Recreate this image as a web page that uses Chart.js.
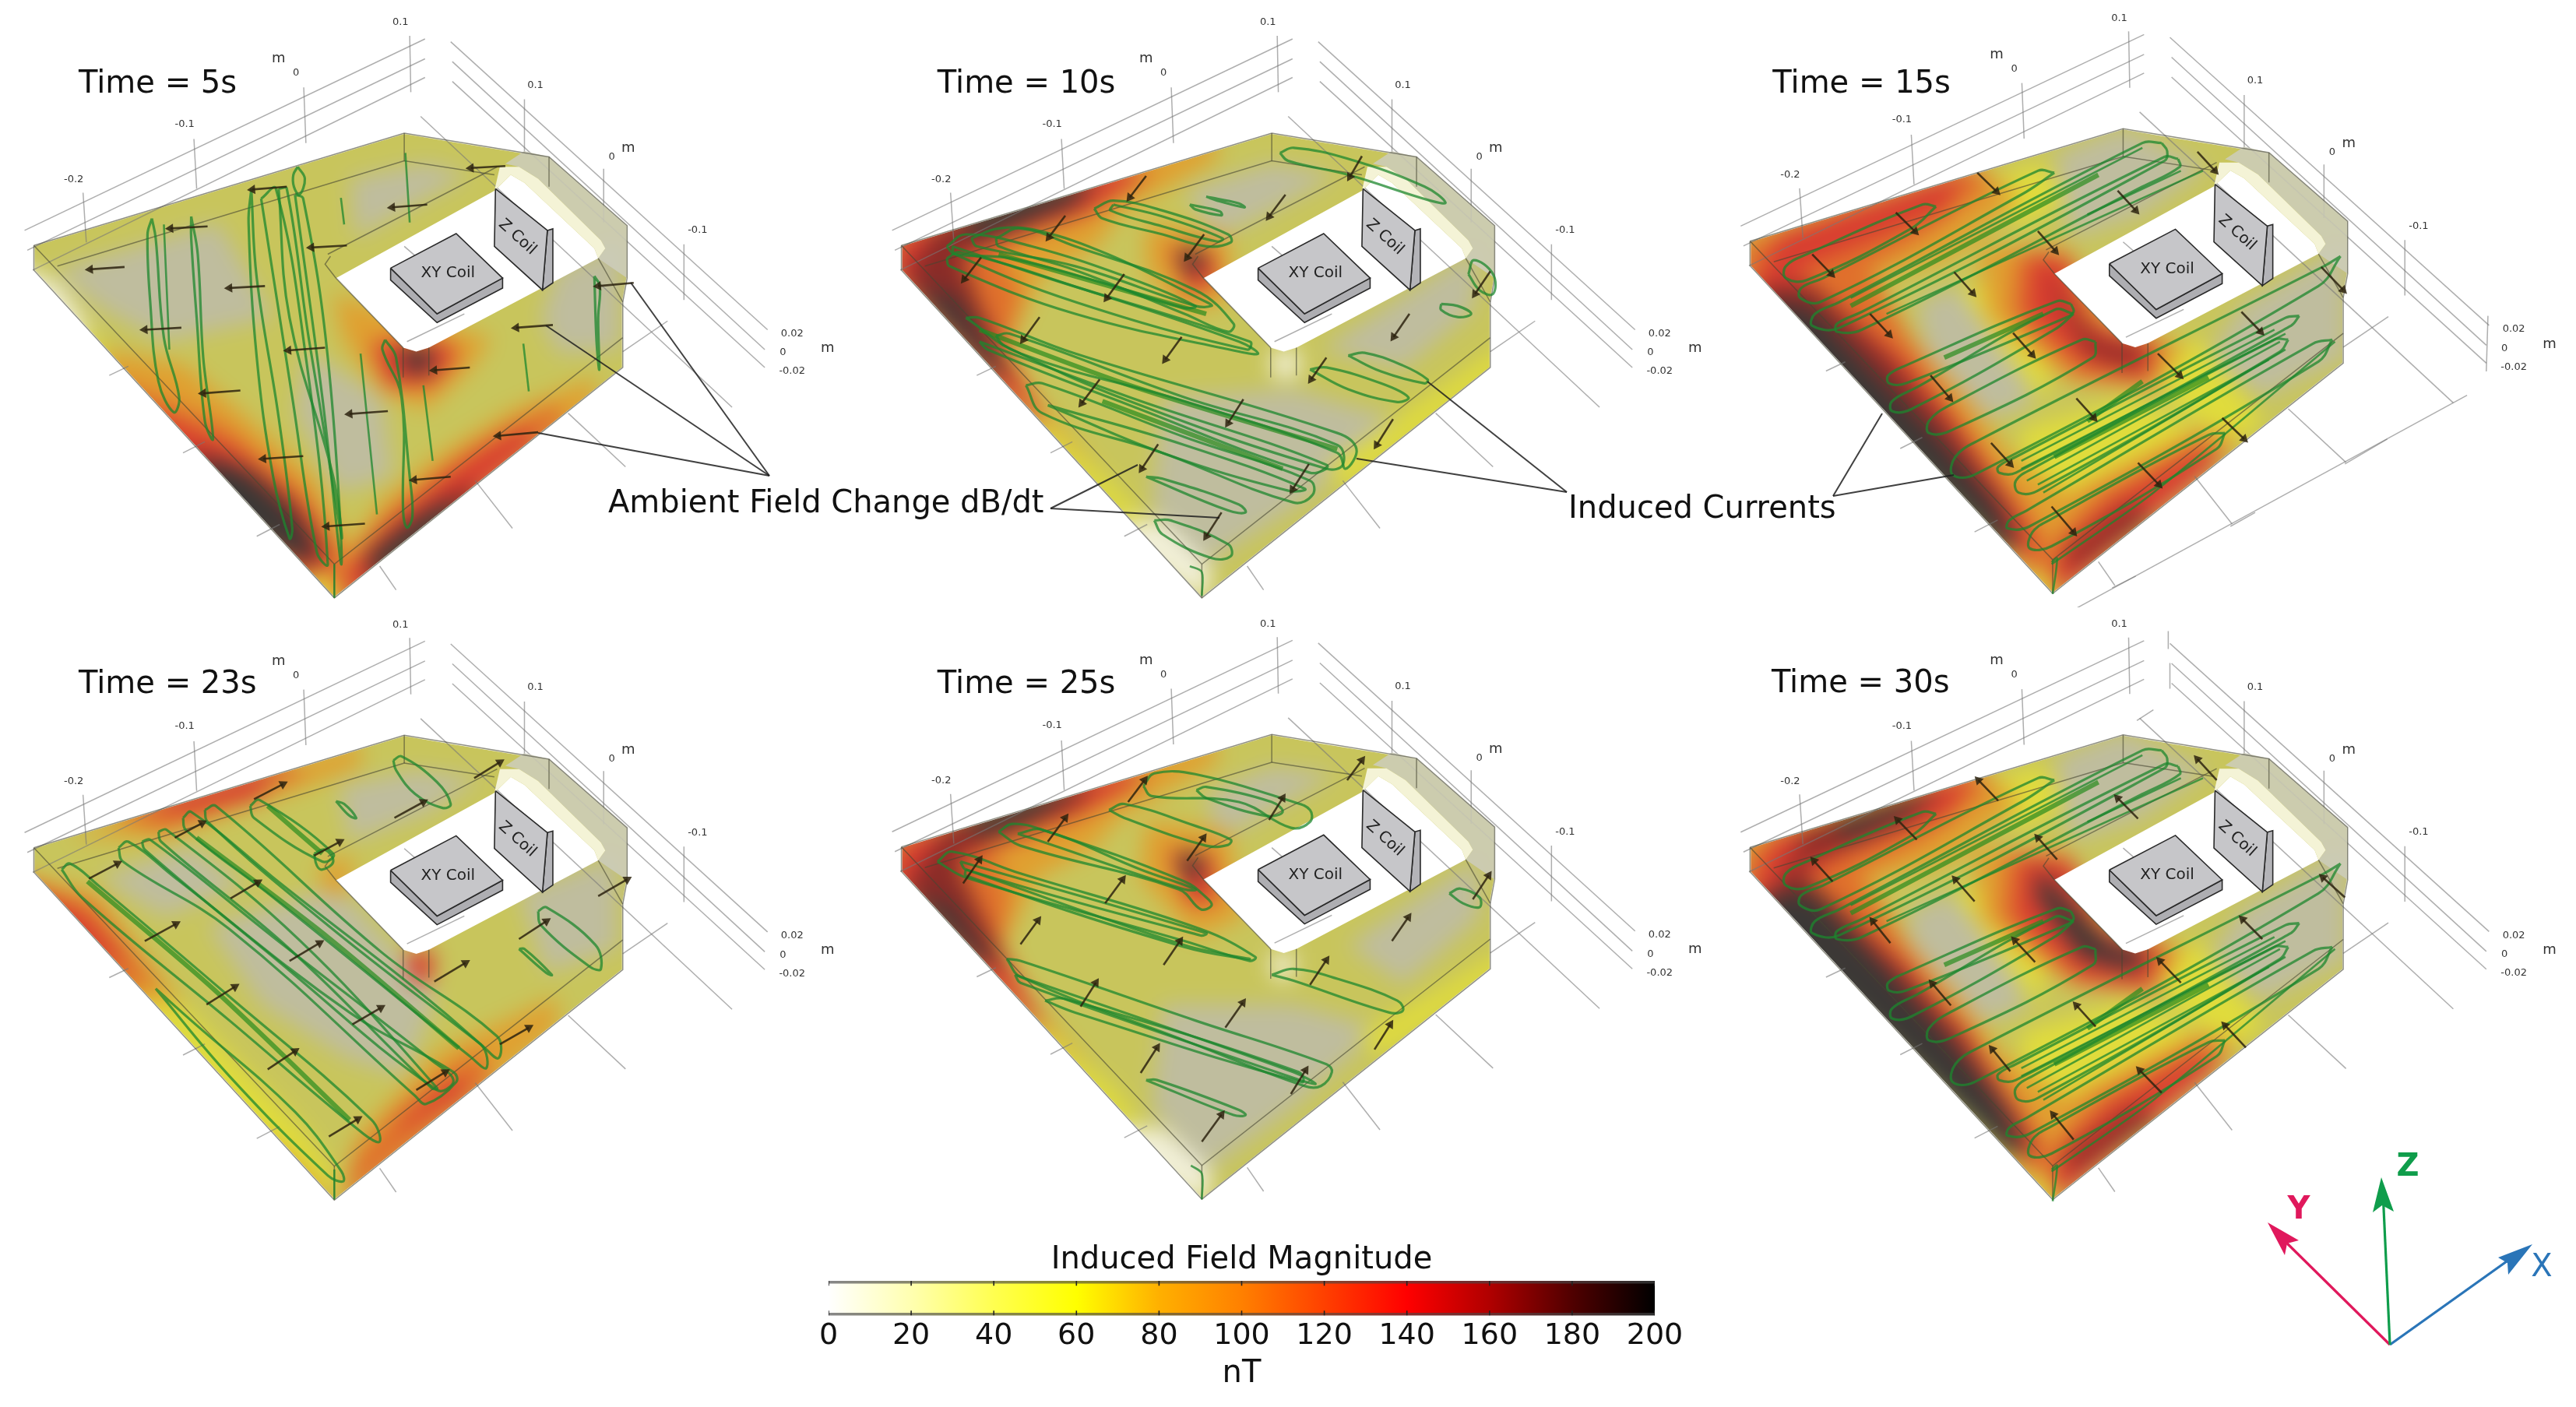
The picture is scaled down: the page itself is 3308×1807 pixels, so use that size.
<!DOCTYPE html>
<html>
<head>
<meta charset="utf-8">
<title>Induced field magnitude</title>
<script src="https://cdn.jsdelivr.net/npm/chart.js@4"></script>
<style>
  html, body { margin: 0; background: #fff; }
  #page { position: relative; width: 3308px; height: 1807px; overflow: hidden; background: #fff; }
  .panel { position: absolute; overflow: hidden; }
  .panel canvas { position: absolute; left: 0; top: 0; }
  .heat { filter: blur(14px); }
  .soft { filter: blur(0.7px); }
  .full { position: absolute; }
</style>
</head>
<body>
<div id="page"></div>
<script>
// ---- colour bar values
const colorbarTicks = [0, 20, 40, 60, 80, 100, 120, 140, 160, 180, 200]
const colorbarColors = ['#ffffff', '#ffffb0', '#ffff50', '#ffff00', '#ffb000', '#ff8000', '#ff4000', '#ff0000', '#b00000', '#500000', '#000000']

// surface colour per field level (nT), after the grey translucent shading of the model
const surfaceColor = { 5: '#f2f0d8', 20: '#bfbd9e', 50: '#c8c55c', 60: '#e0dc3c', 90: '#e0a030', 110: '#e0702c', 140: '#d83c30', 165: '#8a2c28', 190: '#3b3836' }

// ---- geometry shared by the six views (x, y pairs in panel units)
const outline = [62,618, 740,335, 825,355, 1005,395, 1148,568, 1148,700, 1140,760, 1140,925, 612,1505, 62,680]
const hole = [615,700, 905,480, 935,440, 960,460, 1088,625, 1095,650, 785,875, 762,885, 738,875]
const ringStrip = [1005,395, 1148,568, 1148,700, 1095,650, 1108,625, 1100,605, 985,450, 950,420, 925,412, 960,380]
const innerWall = [915,420, 950,420, 985,450, 1100,605, 1108,625, 1095,650, 1088,625, 960,460, 935,440, 905,480]
const xyTop = [715,675, 835,588, 920,700, 800,790]
const xySide = [715,675, 800,790, 920,700, 920,725, 800,812, 715,705]
const zFront = [907,475, 1002,580, 993,730, 905,620]
const zSide = [1002,580, 1012,576, 1012,712, 993,730]
const boxEdges = [
  [62,618, 740,335, 1005,395, 1148,568, 1148,700, 1140,760, 1140,925, 612,1505, 62,680, 62,618],
  [62,618, 612,1420, 1140,850],
  [612,1420, 612,1505],
  [105,670, 740,405, 905,440],
  [740,335, 740,405],
  [1005,395, 1005,470],
  [600,640, 910,420],
  [605,645, 595,665, 615,700, 738,875],
  [738,875, 738,950],
  [785,875, 785,945],
  [1095,650, 1140,760]
]
const gridLines = [
  [45,580, 778,98], [50,630, 778,148], [60,680, 778,195],
  [152,485, 158,610], [355,350, 360,475], [556,220, 560,360], [750,90, 752,232],
  [825,105, 1405,830], [828,155, 1400,880], [828,205, 1400,925], [770,293, 1340,1025],
  [960,250, 960,385], [1105,425, 1105,560], [1252,615, 1252,755],
  [200,945, 235,922], [335,1140, 375,1112], [470,1350, 512,1320],
  [695,1425, 725,1485], [870,1210, 938,1330], [1040,1040, 1145,1175],
  [1140,885, 1222,808], [745,860, 850,790], [740,620, 790,680]
]
const tickLabels = [
  ['0.1', 733, 57, 13], ['m', 510, 148, 18], ['0', 542, 184, 13], ['-0.1', 338, 313, 13], ['-0.2', 135, 452, 13],
  ['0.1', 980, 215, 13], ['0', 1120, 395, 13], ['m', 1150, 373, 18], ['-0.1', 1277, 580, 13],
  ['0.02', 1450, 840, 13], ['0', 1433, 888, 13], ['-0.02', 1450, 935, 13], ['m', 1515, 877, 18]
]
const extraGrid15 = [[1370,995, 655,1535], [1148,1168, 1225,1105], [940,1325, 985,1290], [725,1480, 768,1450], [1408,795, 1405,935]]
const extraGrid30 = [[827,60, 827,105], [830,140, 830,205], [800,258, 770,285]]

// ---- field patches per view: [level nT, x, y, x, y ...]
const heat5 = [
  [20, 100,680, 400,560, 500,800, 300,860, 190,780],
  [20, 560,880, 700,1000, 720,1200, 620,1240, 540,1040],
  [20, 1020,680, 1140,600, 1135,880, 1020,890, 990,800],
  [20, 640,450, 780,410, 860,440, 700,560, 650,600],
  [5, 30,660, 110,720, 170,840, 120,860, 30,740],
  [60, 130,830, 200,880, 270,1000, 230,1010, 130,880],
  [90, 190,880, 340,920, 460,1060, 580,1210, 640,1390, 620,1520, 540,1470, 190,970],
  [90, 1090,950, 940,1030, 800,1150, 700,1260, 640,1370, 620,1520, 1090,1020],
  [90, 610,740, 720,790, 900,850, 860,930, 780,1030, 700,990, 630,860],
  [110, 220,960, 410,1070, 550,1230, 620,1380, 620,1490, 540,1490, 220,1040],
  [110, 1010,1020, 860,1130, 720,1290, 640,1420, 630,1520, 1040,1060],
  [140, 270,1030, 430,1130, 560,1280, 610,1410, 580,1470, 270,1110],
  [140, 960,1070, 800,1210, 690,1340, 630,1440, 640,1520, 980,1110],
  [140, 680,860, 810,860, 840,890, 790,970, 710,970],
  [165, 350,1130, 470,1190, 540,1270, 590,1380, 580,1430, 350,1230],
  [190, 380,1150, 450,1190, 520,1270, 570,1370, 560,1420, 380,1280],
  [165, 860,1220, 750,1310, 670,1400, 680,1480, 880,1260],
  [190, 820,1260, 740,1330, 680,1400, 690,1460, 840,1300],
  [190, 735,880, 790,880, 785,935, 745,935],
  [60, 560,1440, 600,1440, 615,1520, 570,1520]
]
const heat10 = [
  [20, 560,1000, 800,980, 1000,1060, 800,1280, 640,1420, 540,1280],
  [20, 850,880, 1140,620, 1130,780, 1000,930],
  [20, 600,480, 760,410, 880,440, 750,540, 660,600],
  [60, 1190,860, 1190,930, 900,1230, 860,1180],
  [90, 60,590, 380,450, 660,340, 660,400, 480,540, 440,620, 340,690, 280,870, 340,1020, 460,1210, 380,1150, 60,680],
  [110, 60,590, 430,430, 560,420, 400,540, 260,630, 300,740, 270,880, 360,1090, 300,1040, 60,700],
  [140, 80,600, 300,500, 500,420, 520,450, 420,540, 260,610, 180,660, 250,830, 320,1030, 340,1070, 250,960, 60,680],
  [165, 150,570, 300,490, 450,440, 400,520, 280,580, 190,640, 240,820, 290,980, 250,930, 90,690],
  [190, 190,550, 300,490, 430,450, 400,500, 300,560, 220,600],
  [190, 100,720, 180,750, 270,930, 250,940],
  [90, 530,560, 680,590, 690,750, 600,790, 530,680],
  [140, 570,620, 650,630, 660,710, 610,740],
  [190, 595,625, 635,635, 625,690, 600,680],
  [60, 340,1060, 470,1220, 530,1310, 480,1310, 320,1090],
  [5, 480,1310, 560,1310, 650,1430, 640,1520, 500,1390],
  [5, 760,885, 810,880, 810,945, 780,955, 760,940]
]
const heat15 = [
  [20, 620,390, 745,320, 900,420, 780,540, 650,600],
  [20, 370,760, 450,720, 560,900, 580,1020, 480,1060, 390,900],
  [20, 960,770, 1150,610, 1150,900, 1000,1000, 900,900],
  [60, 460,470, 600,410, 640,500, 560,570],
  [60, 450,730, 530,690, 620,880, 600,1010, 500,830],
  [60, 810,890, 880,850, 1000,1060, 950,1120, 830,1010],
  [60, 560,1080, 760,1000, 880,1080, 660,1270, 560,1190],
  [90, 50,590, 480,410, 560,500, 430,650, 300,700, 360,850, 470,1010, 530,1130, 640,1240, 880,1080, 960,1100, 640,1460, 620,1520, 50,690],
  [90, 480,620, 640,620, 730,820, 860,870, 800,980, 650,960, 500,800],
  [110, 50,620, 470,420, 500,470, 380,600, 280,680, 400,950, 500,1160, 600,1340, 620,1460, 50,720],
  [110, 890,1110, 700,1240, 620,1350, 620,1500, 940,1130],
  [110, 550,640, 650,640, 710,820, 820,860, 790,970, 660,950, 540,790],
  [140, 120,590, 460,430, 420,530, 240,630, 150,680, 340,900, 440,1060, 560,1300, 600,1440, 60,760],
  [140, 880,1130, 720,1260, 620,1400, 630,1500, 920,1160],
  [140, 580,640, 640,660, 670,810, 800,870, 790,950, 680,920, 570,790],
  [165, 90,720, 180,720, 320,900, 420,1060, 530,1270, 560,1380, 90,800],
  [165, 760,1270, 640,1390, 650,1430, 800,1300],
  [165, 600,680, 700,860, 790,880, 760,925, 680,890],
  [190, 90,750, 180,780, 300,950, 400,1090, 510,1270, 550,1380, 530,1390, 90,820],
  [60, 580,1440, 605,1440, 620,1520, 590,1520]
]
const heat23 = [
  [20, 380,800, 620,700, 800,980, 740,1180, 640,1140, 480,1000],
  [20, 620,450, 760,410, 880,430, 780,520, 640,590],
  [20, 950,720, 1130,620, 1130,860, 1000,920],
  [20, 180,680, 350,600, 450,700, 300,780],
  [90, 120,580, 520,400, 660,340, 660,400, 300,580],
  [110, 200,520, 520,390, 560,420, 300,560],
  [140, 260,500, 510,400, 470,480, 340,520],
  [90, 30,670, 180,720, 340,1010, 240,1010, 30,740],
  [110, 30,680, 170,750, 290,960, 220,950, 30,760],
  [140, 30,700, 150,770, 240,900, 180,880, 30,790],
  [60, 240,980, 330,1000, 560,1320, 620,1450, 590,1480, 440,1300],
  [90, 430,1290, 520,1370, 600,1480, 560,1510],
  [90, 1020,980, 800,1120, 650,1340, 620,1520, 1020,1060],
  [110, 880,1110, 720,1280, 650,1390, 630,1500, 900,1200],
  [140, 840,1170, 740,1280, 720,1320, 850,1220],
  [140, 745,865, 795,865, 790,945, 750,945],
  [90, 590,640, 650,630, 630,730, 585,710]
]
const heat25 = [
  [20, 560,1000, 800,1000, 960,1060, 800,1260, 640,1420, 540,1260],
  [20, 900,850, 1140,630, 1140,780, 1000,950],
  [20, 640,470, 760,400, 880,420, 740,530, 660,590],
  [60, 1190,860, 1190,920, 960,1130, 920,1080],
  [90, 50,590, 380,440, 660,330, 660,390, 480,530, 430,610, 330,680, 270,850, 330,1010, 450,1190, 380,1140, 50,680],
  [110, 50,590, 430,420, 560,400, 410,530, 250,620, 280,730, 260,860, 360,1070, 300,1030, 50,690],
  [140, 90,590, 300,490, 500,410, 520,440, 400,520, 250,590, 180,650, 240,800, 320,1020, 340,1060, 250,950, 60,690],
  [165, 170,550, 300,480, 440,430, 400,500, 270,570, 180,630, 230,780, 280,930, 90,700],
  [190, 200,535, 340,470, 400,450, 330,525, 230,575],
  [190, 90,720, 170,750, 250,890, 230,900],
  [90, 530,540, 680,560, 710,780, 620,830, 520,680],
  [140, 570,610, 650,620, 660,740, 610,750],
  [190, 595,615, 630,625, 625,690, 600,680],
  [60, 330,1050, 470,1210, 520,1300, 470,1300, 310,1080],
  [5, 470,1310, 560,1310, 650,1420, 640,1510, 490,1380],
  [5, 760,870, 800,870, 800,930, 780,940, 760,925]
]
const heat30 = [
  [20, 620,380, 745,310, 900,410, 780,530, 650,590],
  [20, 350,770, 430,720, 540,880, 570,1010, 470,1050, 370,890],
  [20, 960,760, 1150,600, 1150,890, 1000,990, 900,890],
  [60, 470,450, 600,400, 640,490, 560,560],
  [60, 440,720, 520,680, 610,870, 590,1000, 490,820],
  [60, 810,880, 880,840, 1000,1050, 950,1110, 830,1000],
  [60, 560,1070, 760,990, 880,1070, 660,1260, 560,1180],
  [90, 50,580, 480,400, 560,490, 430,640, 290,690, 350,840, 460,1000, 520,1120, 640,1230, 880,1070, 960,1090, 640,1450, 620,1510, 50,680],
  [90, 470,610, 640,610, 730,810, 860,860, 800,970, 650,950, 490,790],
  [110, 60,610, 470,410, 500,460, 380,590, 260,670, 390,940, 500,1150, 600,1340, 620,1450, 50,710],
  [110, 890,1100, 700,1230, 620,1340, 620,1490, 940,1120],
  [110, 530,620, 650,630, 720,810, 830,850, 800,970, 660,950, 520,780],
  [140, 110,580, 470,420, 430,520, 240,620, 170,680, 350,900, 460,1060, 570,1300, 610,1430, 60,750],
  [140, 880,1120, 720,1250, 620,1390, 630,1490, 920,1150],
  [140, 560,630, 650,640, 690,800, 810,860, 790,950, 670,930, 550,780],
  [165, 170,560, 420,450, 360,530, 230,610, 150,650, 340,910, 450,1080, 550,1300, 580,1390, 90,780],
  [165, 770,1260, 640,1380, 650,1420, 810,1290],
  [190, 220,545, 400,465, 340,525, 240,585],
  [190, 90,720, 180,720, 320,920, 430,1090, 530,1260, 565,1370, 540,1380, 90,800],
  [190, 590,660, 720,850, 790,870, 760,915, 670,880, 590,730],
  [60, 580,1430, 605,1430, 620,1510, 590,1510]
]

// ---- closed current loops per view
const loops5 = [
  [278,550, 285,600, 300,850, 328,1000, 318,1038, 290,960, 275,760, 270,590],
  [350,545, 362,640, 372,900, 390,1105, 375,1060, 360,800, 350,600],
  [460,475, 470,700, 510,1050, 535,1330, 530,1355, 500,1200, 470,900, 455,560],
  [478,500, 505,475, 560,900, 600,1420, 580,1390, 535,1000],
  [510,475, 525,475, 565,850, 625,1350, 610,1200, 530,800],
  [545,420, 558,450, 548,490, 538,470, 537,440],
  [540,490, 555,500, 600,900, 625,1420, 590,1000],
  [705,855, 725,900, 750,1200, 755,1300, 745,1328, 738,1290, 735,1000, 700,880],
  [1088,695, 1098,720, 1095,800, 1097,930, 1092,860]
]
const lines5 = [
  [300,565, 310,880], [624,498, 630,565], [742,385, 750,560], [660,890, 690,1295],
  [775,970, 792,1160], [958,865, 968,985], [612,1420, 612,1505]
]
const loops10 = [
  [775,385, 800,372, 900,400, 1040,470, 1078,510, 1050,505, 900,440, 790,405],
  [640,495, 700,512, 710,522, 660,505],
  [610,515, 665,532, 668,542, 620,527],
  [435,525, 470,505, 560,530, 680,590, 685,610, 640,620, 560,590, 450,550],
  [470,515, 560,545, 670,600, 660,608, 560,570, 465,530],
  [165,620, 200,590, 320,620, 500,700, 620,770, 600,775, 470,720, 280,650, 180,640],
  [210,600, 260,575, 330,580, 460,640, 640,760, 650,770, 620,770, 400,670, 220,620],
  [255,600, 300,575, 400,620, 620,730, 690,815, 680,835, 600,790, 400,680, 260,620],
  [165,650, 190,635, 420,730, 700,860, 735,890, 700,885, 400,790, 170,670],
  [175,620, 350,700, 720,860, 715,880, 400,760, 180,640],
  [1120,690, 1130,655, 1165,690, 1165,740, 1140,730],
  [1070,765, 1100,770, 1125,790, 1100,798, 1070,780],
  [900,895, 930,888, 1000,920, 1045,955, 1040,965, 960,935],
  [830,930, 860,925, 960,965, 1010,1000, 990,1012, 900,980],
  [200,800, 225,800, 400,890, 880,1090, 915,1130, 895,1180, 880,1140, 600,1010, 300,890],
  [255,845, 280,840, 600,1000, 880,1120, 890,1170, 860,1180, 500,1010, 270,870],
  [225,860, 500,1000, 860,1170, 830,1190, 500,1020, 240,880],
  [310,970, 340,965, 600,1100, 830,1210, 835,1245, 800,1265, 560,1140, 340,1040],
  [350,1020, 600,1120, 820,1230, 790,1235, 560,1140],
  [530,1200, 560,1205, 700,1270, 712,1290, 680,1285],
  [545,1310, 575,1310, 680,1370, 685,1400, 650,1405, 560,1345]
]
const lines10 = [[610,1425, 632,1440, 632,1500]]
const strips10 = [[225,830, 500,970, 880,1130], [450,1010, 780,1180], [260,640, 640,790]]
const loops15 = [
  [405,520, 380,515, 170,640, 132,670, 132,700, 170,705, 360,575],
  [620,435, 590,430, 200,700, 160,725, 158,750, 195,760, 560,490],
  [815,360, 780,360, 230,760, 185,790, 180,820, 230,825, 820,405, 825,380],
  [845,400, 820,395, 270,785, 225,815, 225,835, 270,830, 780,470, 848,420],
  [650,765, 625,758, 350,920, 318,945, 320,965, 350,965, 640,800, 655,785],
  [655,790, 620,780, 370,975, 325,1010, 325,1035, 360,1030, 620,830],
  [695,860, 670,855, 430,1020, 392,1060, 392,1090, 430,1085, 690,900],
  [1140,645, 1110,670, 480,1110, 440,1150, 435,1195, 475,1195, 1100,720],
  [1065,795, 1040,800, 550,1150, 518,1175, 520,1190, 550,1190, 1050,820],
  [1045,855, 1020,855, 580,1180, 550,1210, 555,1240, 590,1235, 1030,885],
  [1125,855, 1090,865, 570,1285, 538,1310, 535,1330, 575,1325, 1100,910],
  [930,1090, 900,1095, 610,1310, 580,1340, 575,1380, 615,1375, 915,1130]
]
const lines15 = [
  [250,750, 780,372], [315,790, 890,430], [615,1420, 800,1240, 1130,860],
  [560,1160, 1020,830], [560,1180, 1040,840], [570,1210, 1030,860], [590,1220, 1010,905], [600,1240, 1040,880],
  [680,540, 850,430], [615,1415, 625,1405, 617,1495]
]
const strips15 = [[250,770, 700,440], [420,900, 600,790], [680,1060, 780,960], [620,1150, 900,950]]
const loops23 = [
  [113,660, 128,645, 180,700, 420,980, 680,1290, 695,1345, 665,1325, 420,1040, 150,730],
  [217,605, 235,590, 320,680, 640,1020, 830,1170, 835,1195, 780,1250, 760,1230, 420,810, 225,640],
  [260,590, 275,585, 500,830, 790,1140, 830,1190, 800,1215, 500,880, 265,610],
  [290,565, 305,560, 550,840, 800,1210, 790,1210, 530,860, 295,590],
  [335,530, 350,515, 500,680, 880,1100, 890,1160, 860,1130, 500,730, 340,560],
  [375,510, 395,500, 700,870, 910,1080, 912,1135, 880,1100, 600,800, 380,540],
  [458,500, 475,485, 610,620, 590,640, 465,530],
  [720,385, 735,375, 800,440, 825,495, 810,505, 760,470, 725,410],
  [615,488, 630,495, 652,530, 640,525],
  [985,765, 1000,755, 1090,850, 1100,910, 1080,905, 990,800],
  [950,860, 960,860, 1010,925, 1000,920],
  [285,960, 350,1040, 540,1270, 625,1420, 628,1445, 600,1430, 420,1180],
  [575,620, 595,610, 610,640, 590,660, 580,650]
]
const lines23 = [[612,1415, 612,1490]]
const strips23 = [[160,690, 390,960, 640,1290], [360,580, 600,830, 840,1110], [490,500, 590,620]]
const loops25 = [
  [525,450, 545,418, 620,420, 800,490, 830,510, 830,540, 795,555, 700,490, 540,475],
  [622,460, 640,452, 760,490, 780,515, 750,525, 640,480],
  [462,510, 490,495, 620,550, 685,585, 680,598, 640,600, 490,530],
  [260,565, 285,545, 340,560, 600,690, 640,730, 650,750, 630,760, 590,710, 300,600],
  [295,570, 340,560, 520,660, 620,710, 600,710, 340,590],
  [148,640, 175,615, 300,670, 630,810, 730,880, 720,890, 600,840, 200,680],
  [190,640, 640,820, 630,826, 200,660],
  [200,660, 600,850, 720,885, 600,855, 200,675],
  [275,885, 300,890, 620,1040, 860,1150, 870,1170, 850,1205, 820,1205, 600,1090, 300,930],
  [290,925, 800,1170, 840,1200, 790,1180, 300,945],
  [345,990, 380,985, 810,1170, 815,1195, 400,1020],
  [530,1190, 550,1190, 700,1265, 712,1278, 690,1278],
  [760,925, 800,910, 880,935, 990,990, 1000,1015, 975,1020, 800,940],
  [1085,720, 1105,708, 1140,730, 1140,755, 1110,745]
]
const lines25 = [[612,1405, 632,1425, 632,1490]]

// ---- dB/dt arrows per view: tail x, tail y, head x, head y
const arrows5 = [
  [228,672,165,678], [380,570,312,575], [332,825,265,830], [485,720,420,725], [440,983,372,990], [595,875,528,882],
  [555,1148,482,1155], [710,1035,640,1042], [668,1318,598,1325], [525,470,462,477], [635,618,570,623], [782,515,718,522],
  [925,418,862,423], [860,925,795,932], [1012,818,945,825], [1160,712,1095,720], [985,1088,912,1097], [825,1200,758,1208]
]
const arrows10 = [
  [530,443,500,497], [382,543,352,597], [228,648,197,703], [925,393,903,445], [785,490,755,545], [636,590,605,648],
  [490,690,458,750], [595,848,565,905], [335,798,305,855], [445,955,412,1015], [708,1005,680,1065], [860,900,832,955],
  [1012,790,983,848], [1160,683,1132,740], [982,1055,952,1120], [828,1168,798,1232], [552,1118,522,1180], [668,1290,640,1350]
]
const arrows15 = [
  [480,435,515,482], [332,535,367,583], [180,640,215,690], [880,382,912,430], [735,480,768,530], [590,582,622,632],
  [438,685,472,738], [285,790,320,842], [545,838,580,893], [395,945,430,1002], [660,1003,692,1052], [505,1115,540,1168],
  [808,890,848,945], [960,785,995,835], [1105,672,1145,730], [925,1052,965,1105], [772,1165,810,1220], [615,1275,655,1340]
]
const arrows23 = [
  [163,683,215,645], [265,840,322,797], [378,1000,430,955], [490,1163,540,1117], [602,1332,655,1288], [320,580,370,543],
  [422,733,472,692], [530,890,585,845], [645,1050,697,1008], [762,1215,815,1170], [465,483,518,445], [722,530,775,490],
  [575,625,622,590], [868,430,915,390], [795,942,852,895], [950,835,1000,790], [1095,727,1148,685], [915,1100,968,1058]
]
const arrows25 = [
  [195,695,225,635], [350,590,382,530], [497,490,527,435], [605,638,635,580], [455,745,487,685], [300,848,332,788],
  [562,900,592,840], [410,1005,438,945], [675,1058,707,995], [520,1172,550,1108], [830,950,860,888], [980,840,1010,780],
  [898,435,925,385], [755,535,780,480], [1128,735,1157,675], [948,1113,977,1050], [795,1225,822,1165], [632,1345,668,1277]
]
const arrows30 = [
  [518,487,482,435], [370,585,335,535], [217,690,183,638], [915,435,880,382], [772,532,735,480], [625,635,590,580],
  [475,740,440,685], [322,845,290,790], [585,893,548,838], [432,1002,398,947], [695,1055,660,1002], [540,1168,507,1112],
  [850,945,812,890], [998,835,962,785], [1148,730,1108,680], [968,1108,930,1052], [815,1222,775,1165], [655,1340,618,1277]
]

// ---- annotations and triad, page units
const ambientLeaders = [[988,611, 810,363], [988,611, 701,418], [988,611, 691,556], [1349,653, 1461,597], [1349,653, 1566,665]]
const currentLeaders = [[2012,632, 1833,490], [2012,632, 1742,589], [2354,637, 2417,531], [2354,637, 2509,610]]
const triadX = [3069,1727, 3240,1605]
const triadY = [3069,1727, 2925,1585]
const triadZ = [3069,1727, 3060,1530]
const headX = [3252,1598, 3208,1615, 3220,1622, 3221,1637]
const headY = [2912,1570, 2952,1593, 2937,1597, 2934,1612]
const headZ = [3058,1512, 3047,1557, 3059,1548, 3074,1556]

const panelSetup = [
  { title: 'Time = 5s',  left: 0,    top: 0,   width: 1100, shift: [0, 0],    titleAt: [144, 213], heat: heat5,  loops: loops5,  lines: lines5,  strips: [],       arrows: arrows5,  grid: [] },
  { title: 'Time = 10s', left: 1100, top: 0,   width: 1100, shift: [20, 0],   titleAt: [148, 213], heat: heat10, loops: loops10, lines: lines10, strips: strips10, arrows: arrows10, grid: [] },
  { title: 'Time = 15s', left: 2200, top: 0,   width: 1108, shift: [5, -11],  titleAt: [108, 213], heat: heat15, loops: loops15, lines: lines15, strips: strips15, arrows: arrows15, grid: extraGrid15 },
  { title: 'Time = 23s', left: 0,    top: 780, width: 1100, shift: [0, -13],  titleAt: [144, 196], heat: heat23, loops: loops23, lines: lines23, strips: strips23, arrows: arrows23, grid: [] },
  { title: 'Time = 25s', left: 1100, top: 780, width: 1100, shift: [20, -15], titleAt: [148, 196], heat: heat25, loops: loops25, lines: lines25, strips: [],       arrows: arrows25, grid: [] },
  { title: 'Time = 30s', left: 2200, top: 780, width: 1108, shift: [5, -14],  titleAt: [106, 193], heat: heat30, loops: loops15, lines: lines15, strips: strips15, arrows: arrows30, grid: extraGrid30 }
]

const PANEL_UNITS = 1568
const FONT = '"DejaVu Sans", sans-serif'

// flat x,y list to chart points
function pts(flat, shift) {
  const dx = shift ? shift[0] : 0
  const dy = shift ? shift[1] : 0
  const out = []
  for (let i = 0; i < flat.length; i += 2) out.push({ x: flat[i] + dx, y: flat[i + 1] + dy })
  return out
}

function closed(points) {
  return points.concat([points[0]])
}

function line(points, color, width, extra) {
  return Object.assign({ data: points, showLine: true, pointRadius: 0, fill: false, tension: 0, borderColor: color, borderWidth: width }, extra)
}

function shape(points, color, edge, edgeWidth) {
  return { data: closed(points), showLine: true, pointRadius: 0, tension: 0, fill: 'shape', backgroundColor: color, borderColor: edge || 'rgba(0,0,0,0)', borderWidth: edgeWidth || 0 }
}

function arrow(a, color) {
  return {
    data: pts(a), showLine: true, tension: 0, fill: false, borderColor: color, borderWidth: 2.6,
    pointStyle: 'triangle',
    pointRadius: c => (c.dataIndex === 1 ? 7 : 0),
    pointBackgroundColor: color, pointBorderWidth: 0,
    rotation: c => {
      const sx = c.chart.scales.x
      const sy = c.chart.scales.y
      const dx = sx.getPixelForValue(a[2]) - sx.getPixelForValue(a[0])
      const dy = sy.getPixelForValue(a[3]) - sy.getPixelForValue(a[1])
      return Math.atan2(dx, -dy) * 180 / Math.PI
    }
  }
}

// draws labels at data positions, [text, x, y, size, opts]
const textPlugin = {
  id: 'pageText',
  afterDatasetsDraw(chart, args, opts) {
    const ctx = chart.ctx
    const sx = chart.scales.x
    const sy = chart.scales.y
    ;(opts.items || []).forEach(([text, x, y, size, o]) => {
      o = o || {}
      ctx.save()
      ctx.translate(sx.getPixelForValue(x), sy.getPixelForValue(y))
      if (o.rotate) ctx.rotate(o.rotate * Math.PI / 180)
      ctx.font = (o.weight ? o.weight + ' ' : '') + size + 'px ' + FONT
      ctx.fillStyle = o.color || '#222'
      ctx.textAlign = o.align || 'center'
      ctx.textBaseline = 'middle'
      ctx.fillText(text, 0, 0)
      ctx.restore()
    })
  }
}

function withOrder(datasets) {
  // later entries go on top
  datasets.forEach((d, i) => { d.order = datasets.length - i })
  return datasets
}

function makeChart(parent, cls, left, top, width, height, xMax, yMax, datasets, items) {
  const canvas = document.createElement('canvas')
  canvas.width = width
  canvas.height = height
  canvas.className = cls
  canvas.style.left = left + 'px'
  canvas.style.top = top + 'px'
  canvas.style.width = width + 'px'
  canvas.style.height = height + 'px'
  parent.appendChild(canvas)
  return new Chart(canvas, {
    type: 'scatter',
    data: { datasets: withOrder(datasets) },
    plugins: [textPlugin],
    options: {
      responsive: false,
      animation: false,
      devicePixelRatio: 1,
      layout: { padding: 0, autoPadding: false },
      plugins: { legend: { display: false }, tooltip: { enabled: false }, title: { display: false }, pageText: { items: items || [] } },
      scales: {
        x: { type: 'linear', display: false, min: 0, max: xMax },
        y: { type: 'linear', display: false, min: 0, max: yMax, reverse: true }
      }
    }
  })
}

function renderPanel(p) {
  const box = document.createElement('div')
  box.className = 'panel'
  box.style.left = p.left + 'px'
  box.style.top = p.top + 'px'
  box.style.width = p.width + 'px'
  box.style.height = '800px'
  document.getElementById('page').appendChild(box)

  const U = PANEL_UNITS
  const s = p.shift

  // blurred field layer
  const heatSets = [shape(pts([0,0, U,0, U,U, 0,U]), surfaceColor[50])]
  p.heat.forEach(h => heatSets.push(shape(pts(h.slice(1)), surfaceColor[h[0]])))
  makeChart(box, 'heat', 0, 0, p.width, 800, U, U, heatSets)

  // everything sharp on top of it
  const sets = []
  const mask = pts([0,0, 0,U, U,U, U,0, 0,0]).concat(pts(outline, s)).concat(closed(pts(outline, s)).slice(-1)).concat(pts([0,0]))
  sets.push(shape(mask, '#ffffff', '#ffffff', 2))
  sets.push(shape(pts(hole, s), '#ffffff'))
  const gridColor = 'rgba(120,120,120,0.6)'
  gridLines.concat(p.grid).forEach(g => {
    const own = p.grid.includes(g)
    sets.push(line(pts(g, own ? null : s), gridColor, 1.5))
  })
  sets.push(shape(pts(ringStrip, s), 'rgba(205,205,188,0.85)'))
  sets.push(shape(pts(innerWall, s), '#f4f3d6'))
  boxEdges.forEach(e => sets.push(line(pts(e, s), 'rgba(70,70,50,0.6)', 1.5)))
  const green = 'rgba(28,135,45,0.75)'
  p.strips.forEach(l => sets.push(line(pts(l), 'rgba(40,140,30,0.7)', 6, { tension: 0.3 })))
  p.lines.forEach(l => sets.push(line(pts(l), green, 2.6, { tension: 0.3 })))
  p.loops.forEach(l => sets.push(line(closed(pts(l)), green, 3.2, { tension: 0.4 })))
  p.arrows.forEach(a => sets.push(arrow(a, 'rgba(45,35,15,0.85)')))
  const coilEdge = '#2a2a2a'
  sets.push(shape(pts(xySide, s), '#aeaeb2', coilEdge, 1.6))
  sets.push(shape(pts(xyTop, s), '#c6c6c9', coilEdge, 1.6))
  sets.push(shape(pts(zSide, s), '#b4b4b8', coilEdge, 1.6))
  sets.push(shape(pts(zFront, s), '#c6c6c9', coilEdge, 1.6))

  const items = tickLabels.map(t => [t[0], t[1] + s[0], t[2] + s[1], t[3], { color: '#333' }])
  items.push(['XY Coil', 820 + s[0], 688 + s[1], 20, { color: '#222' }])
  items.push(['Z Coil', 947 + s[0], 597 + s[1], 20, { color: '#222', rotate: 42 }])
  items.push([p.title, p.titleAt[0], p.titleAt[1], 40, { color: '#111', align: 'left' }])
  makeChart(box, 'soft', 0, 0, p.width, 800, U, U, sets, items)
}

function renderOverlay() {
  const page = document.getElementById('page')
  const leader = 'rgba(30,30,30,0.85)'
  const sets = []
  ambientLeaders.concat(currentLeaders).forEach(l => sets.push(line(pts(l), leader, 2)))
  const axisSets = [[triadX, headX, '#2a75b8'], [triadY, headY, '#e0185c'], [triadZ, headZ, '#0f9d4b']]
  axisSets.forEach(([a, h, c]) => {
    sets.push(line(pts(a), c, 3.2))
    sets.push(shape(pts(h), c))
  })
  const items = [
    ['Ambient Field Change dB/dt', 781, 648, 40, { color: '#111', align: 'left' }],
    ['Induced Currents', 2014, 655, 40, { color: '#111', align: 'left' }],
    ['X', 3264, 1629, 40, { color: '#2a75b8' }],
    ['Y', 2952, 1555, 40, { color: '#e0185c', weight: 'bold' }],
    ['Z', 3092, 1500, 40, { color: '#0f9d4b', weight: 'bold' }]
  ]
  const c = makeChart(page, 'full soft', 0, 0, 3308, 1807, 3308, 1807, sets, items)
  c.canvas.style.position = 'absolute'
}

function renderColorbar() {
  const canvas = document.createElement('canvas')
  canvas.width = 1260
  canvas.height = 217
  canvas.className = 'full soft'
  canvas.style.left = '964px'
  canvas.style.top = '1590px'
  document.getElementById('page').appendChild(canvas)
  const rect = colorbarTicks.map(v => ({ x: v, y: 0 })).concat([{ x: 200, y: 1 }, { x: 0, y: 1 }, { x: 0, y: 0 }])
  const sets = [{
    data: rect, showLine: true, pointRadius: 0, tension: 0, fill: 'shape', borderWidth: 0,
    backgroundColor: c => {
      const area = c.chart.chartArea
      if (!area) return '#ccc'
      const g = c.chart.ctx.createLinearGradient(area.left, 0, area.right, 0)
      colorbarTicks.forEach((v, i) => g.addColorStop(v / 200, colorbarColors[i]))
      return g
    }
  }, line([{ x: 0, y: 1 }, { x: 200, y: 1 }], 'rgba(70,70,70,0.65)', 7), line([{ x: 0, y: 0 }, { x: 200, y: 0 }], 'rgba(70,70,70,0.65)', 7)]
  colorbarTicks.forEach(v => {
    sets.push(line([{ x: v, y: 1 }, { x: v, y: 0.86 }], '#222', 1.6))
    sets.push(line([{ x: v, y: 0 }, { x: v, y: 0.14 }], '#222', 1.6))
  })
  new Chart(canvas, {
    type: 'scatter',
    data: { datasets: withOrder(sets) },
    options: {
      responsive: false,
      animation: false,
      devicePixelRatio: 1,
      layout: { padding: { left: 100, right: 99, top: 0, bottom: 18 }, autoPadding: false },
      plugins: {
        legend: { display: false },
        tooltip: { enabled: false },
        title: { display: true, text: 'Induced Field Magnitude', color: '#111', font: { family: FONT, size: 40, weight: 'normal' }, padding: { top: 5, bottom: 2 } }
      },
      scales: {
        x: {
          type: 'linear', min: 0, max: 200,
          border: { display: false },
          grid: { display: false, drawTicks: false },
          afterBuildTicks: a => { a.ticks = colorbarTicks.map(v => ({ value: v })) },
          ticks: { autoSkip: false, maxRotation: 0, color: '#111', padding: 4, font: { family: FONT, size: 38 } },
          title: { display: true, text: 'nT', color: '#111', font: { family: FONT, size: 40 }, padding: { top: 0, bottom: 0 } }
        },
        y: { type: 'linear', display: false, min: 0, max: 1 }
      }
    }
  })
}

panelSetup.forEach(renderPanel)
renderOverlay()
renderColorbar()
</script>
</body>
</html>
